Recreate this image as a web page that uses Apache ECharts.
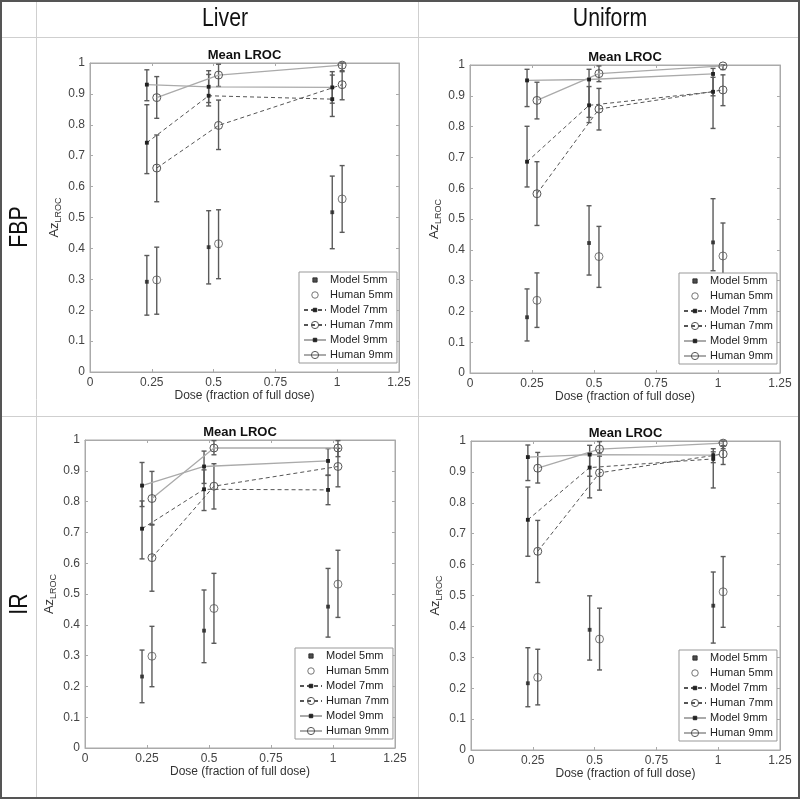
<!DOCTYPE html>
<html><head><meta charset="utf-8">
<script src="https://cdn.jsdelivr.net/npm/echarts@6/dist/echarts.min.js"></script>
<style>html,body{margin:0;padding:0;background:#fff}#c{width:800px;height:799px}</style>
</head><body><div id="c"></div>
<script>
// ---- data ----
const seriesNames = ['Model 5mm','Human 5mm','Model 7mm','Human 7mm','Model 9mm','Human 9mm'];
const doseModel = [0.23, 0.48, 0.98];
const doseHuman = [0.27, 0.52, 1.02];
const xTicks = ['0','0.25','0.5','0.75','1','1.25'];
const yTicks = ['0','0.1','0.2','0.3','0.4','0.5','0.6','0.7','0.8','0.9','1'];
const panelTitles = ['Liver','Uniform'];
const rowTitles = ['FBP','IR'];

// order: M5, H5, M7, H7, M9, H9
const liverFBPMean = [[0.292,0.404,0.517],[0.298,0.415,0.560],[0.742,0.894,0.883],[0.660,0.798,0.930],[0.930,0.923,0.921],[0.888,0.961,0.993]];
const liverFBPLo   = [[0.184,0.285,0.399],[0.187,0.302,0.452],[0.642,0.861,0.827],[0.551,0.720,0.881],[0.878,0.872,0.870],[0.821,0.924,0.972]];
const liverFBPHi   = [[0.377,0.522,0.634],[0.404,0.525,0.668],[0.865,0.963,0.961],[0.767,0.880,0.975],[0.978,0.975,0.972],[0.956,0.996,1.000]];

const uniformFBPMean = [[0.181,0.422,0.424],[0.236,0.378,0.380],[0.686,0.869,0.913],[0.582,0.857,0.919],[0.950,0.953,0.971],[0.885,0.972,0.997]];
const uniformFBPLo   = [[0.104,0.318,0.332],[0.148,0.278,0.275],[0.604,0.813,0.794],[0.479,0.789,0.868],[0.865,0.830,0.900],[0.825,0.946,0.985]];
const uniformFBPHi   = [[0.273,0.543,0.566],[0.325,0.476,0.487],[0.801,0.930,0.960],[0.686,0.924,0.968],[0.986,0.986,0.989],[0.944,0.997,1.000]];

const liverIRMean = [[0.232,0.381,0.459],[0.298,0.453,0.532],[0.712,0.840,0.838],[0.618,0.850,0.914],[0.852,0.914,0.932],[0.810,0.974,0.974]];
const liverIRLo   = [[0.147,0.277,0.360],[0.199,0.340,0.424],[0.614,0.771,0.790],[0.509,0.776,0.848],[0.784,0.859,0.885],[0.726,0.952,0.946]];
const liverIRHi   = [[0.318,0.513,0.583],[0.395,0.567,0.642],[0.802,0.903,0.886],[0.724,0.923,0.973],[0.927,0.964,0.972],[0.898,0.998,0.998]];

const uniformIRMean = [[0.216,0.389,0.467],[0.235,0.359,0.512],[0.745,0.914,0.942],[0.643,0.897,0.958],[0.948,0.956,0.954],[0.912,0.974,0.993]];
const uniformIRLo   = [[0.140,0.291,0.346],[0.146,0.259,0.397],[0.627,0.816,0.848],[0.542,0.841,0.924],[0.872,0.886,0.930],[0.864,0.951,0.975]];
const uniformIRHi   = [[0.331,0.499,0.576],[0.326,0.459,0.626],[0.851,0.960,0.965],[0.743,0.958,0.985],[0.987,0.986,0.975],[0.963,0.998,1.000]];

// ---- layout ----
const FONT = '"Liberation Sans", Arial, sans-serif';
const grids = [
  {left:90, top:63, width:309, height:309},
  {left:470, top:65, width:310, height:308},
  {left:85, top:440, width:310, height:308},
  {left:471, top:441, width:309, height:309}
];
const panels = [
  [liverFBPMean, liverFBPLo, liverFBPHi],
  [uniformFBPMean, uniformFBPLo, uniformFBPHi],
  [liverIRMean, liverIRLo, liverIRHi],
  [uniformIRMean, uniformIRLo, uniformIRHi]
];
const legendPos = [[299,272],[679,273],[295,648],[679,650]];

// small filled square inside a larger (invisible) box, so that it stays small in the legend
const SMALL_SQ = 'path://M0,0M10,10M2.6,2.6L7.4,2.6L7.4,7.4L2.6,7.4Z';
const SMALL_CIRC = 'path://M0,0M10,10M8.6,5A3.6,3.6,0,1,1,8.6,4.99Z';
const styles = [
  {type:'scatter', symbol:SMALL_SQ, size:8, color:'#222', border:'#222', line:null},
  {type:'scatter', symbol:'circle', size:8, color:'rgba(0,0,0,0)', border:'#555', line:null},
  {type:'line', symbol:SMALL_SQ, size:8, color:'#222', border:'#222', line:{color:'#555', width:1, type:[4,3]}},
  {type:'line', symbol:'circle', size:8, color:'rgba(0,0,0,0)', border:'#555', line:{color:'#555', width:1, type:[4,3]}},
  {type:'line', symbol:SMALL_SQ, size:8, color:'#222', border:'#222', line:{color:'#aaa', width:1.3, type:'solid'}},
  {type:'line', symbol:'circle', size:8, color:'rgba(0,0,0,0)', border:'#555', line:{color:'#aaa', width:1.3, type:'solid'}}
];

const xAxis = [], yAxis = [], series = [], legend = [], graphic = [];
grids.forEach((g, gi) => {
  xAxis.push({
    gridIndex: gi, type:'value', min:0, max:1.25, interval:0.25,
    name:'Dose (fraction of full dose)', nameLocation:'middle', nameGap:16,
    nameTextStyle:{fontSize:12, color:'#333', fontFamily:FONT},
    axisLine:{show:true, onZero:false, lineStyle:{color:'#aaa'}},
    axisTick:{show:true, inside:true, length:3, lineStyle:{color:'#aaa'}},
    axisLabel:{fontSize:12, color:'#444', fontFamily:FONT, margin:5, formatter:(v)=>xTicks[Math.round(v/0.25)]},
    splitLine:{show:false}
  });
  xAxis.push({
    gridIndex: gi, type:'value', min:0, max:1.25, interval:0.25, position:'top',
    axisLine:{show:true, onZero:false, lineStyle:{color:'#aaa'}},
    axisTick:{show:true, inside:true, length:3, lineStyle:{color:'#aaa'}},
    axisLabel:{show:false}, splitLine:{show:false}
  });
  yAxis.push({
    gridIndex: gi, type:'value', min:0, max:1, interval:0.1,
    name:'{a|Az}{b|LROC}', nameLocation:'middle', nameGap:26,
    nameTextStyle:{color:'#333', fontFamily:FONT, rich:{a:{fontSize:13, color:'#333', fontFamily:FONT, lineHeight:20, verticalAlign:'middle'}, b:{fontSize:9, color:'#333', fontFamily:FONT, lineHeight:20, padding:[9,0,0,0]}}},
    axisLine:{show:true, onZero:false, lineStyle:{color:'#aaa'}},
    axisTick:{show:true, inside:true, length:3, lineStyle:{color:'#aaa'}},
    axisLabel:{fontSize:12, color:'#444', fontFamily:FONT, margin:5, formatter:(v)=>yTicks[Math.round(v*10)]},
    splitLine:{show:false}
  });
  yAxis.push({
    gridIndex: gi, type:'value', min:0, max:1, interval:0.1, position:'right',
    axisLine:{show:true, onZero:false, lineStyle:{color:'#aaa'}},
    axisTick:{show:true, inside:true, length:3, lineStyle:{color:'#aaa'}},
    axisLabel:{show:false}, splitLine:{show:false}
  });
  const [mean, lo, hi] = panels[gi];
  // error bars
  seriesNames.forEach((nm, si) => {
    const xs = (si % 2 === 0) ? doseModel : doseHuman;
    series.push({
      type:'custom', xAxisIndex: gi*2, yAxisIndex: gi*2, z:1,
      data: xs.map((x, k) => [x, lo[si][k], hi[si][k]]),
      encode:{x:0, y:[1,2]},
      renderItem:(params, api) => {
        const x = api.value(0), l = api.value(1), h = api.value(2);
        const p1 = api.coord([x, l]), p2 = api.coord([x, h]);
        const w = 2.5, st = {stroke:'#5a5a5a', lineWidth:1.4};
        return {type:'group', children:[
          {type:'line', shape:{x1:p1[0], y1:p1[1], x2:p2[0], y2:p2[1]}, style:st},
          {type:'line', shape:{x1:p1[0]-w, y1:p1[1], x2:p1[0]+w, y2:p1[1]}, style:st},
          {type:'line', shape:{x1:p2[0]-w, y1:p2[1], x2:p2[0]+w, y2:p2[1]}, style:st}
        ]};
      },
      silent:true
    });
  });
  seriesNames.forEach((nm, si) => {
    const s = styles[si];
    const xs = (si % 2 === 0) ? doseModel : doseHuman;
    const o = {
      name: nm, type: s.type, xAxisIndex: gi*2, yAxisIndex: gi*2, z:3,
      data: xs.map((x, k) => [x, mean[si][k]]),
      symbol: s.symbol, symbolSize: s.size, symbolKeepAspect:true,
      itemStyle:{color:s.color, borderColor:s.border, borderWidth: s.symbol==='circle'?1:0},
      emphasis:{disabled:true}
    };
    if (s.type === 'line') {
      o.showSymbol = true; o.showAllSymbol = true;
      o.lineStyle = {color:s.line.color, width:s.line.width, type:s.line.type};
    }
    series.push(o);
  });
  legend.push({
    data: seriesNames.map(n => n === 'Human 5mm' ? {name:n, icon:SMALL_CIRC} : n),
    orient:'vertical', left: legendPos[gi][0], top: legendPos[gi][1],
    itemWidth:22, itemHeight:9, itemGap:3, padding:[2,4,2,4], symbolKeepAspect:true,
    itemStyle:{borderWidth:1},
    backgroundColor:'#fff', borderColor:'#999', borderWidth:1, borderRadius:0,
    textStyle:{fontSize:11, color:'#222', fontFamily:FONT, lineHeight:12, padding:[0,0,0,-1]},
    selectedMode:false
  });
  graphic.push({type:'text', x: g.left + g.width/2, y: g.top - 8, silent:true,
    style:{text:'Mean LROC', font:'bold 13px ' + FONT, fill:'#111', align:'center', verticalAlign:'middle'}});
});

// table frame
const lineC = '#cfcfcf';
const HFONT = '25px ' + FONT;
graphic.push(
  {type:'line', shape:{x1:36.5, y1:0, x2:36.5, y2:799}, style:{stroke:lineC, lineWidth:1}, silent:true},
  {type:'line', shape:{x1:418.5, y1:0, x2:418.5, y2:799}, style:{stroke:lineC, lineWidth:1}, silent:true},
  {type:'line', shape:{x1:0, y1:37.5, x2:800, y2:37.5}, style:{stroke:lineC, lineWidth:1}, silent:true},
  {type:'line', shape:{x1:0, y1:416.5, x2:800, y2:416.5}, style:{stroke:lineC, lineWidth:1}, silent:true},
  {type:'rect', shape:{x:1, y:1, width:798, height:797}, style:{fill:'none', stroke:'#555', lineWidth:2}, silent:true},
  {type:'text', x:225, y:19, scaleX:0.85, silent:true, style:{text:panelTitles[0], font:HFONT, fill:'#111', align:'center', verticalAlign:'middle'}},
  {type:'text', x:610, y:19, scaleX:0.85, silent:true, style:{text:panelTitles[1], font:HFONT, fill:'#111', align:'center', verticalAlign:'middle'}},
  {type:'text', x:20, y:227, scaleX:0.85, rotation:Math.PI/2, silent:true, style:{text:rowTitles[0], font:HFONT, fill:'#111', align:'center', verticalAlign:'middle'}},
  {type:'text', x:20, y:604, scaleX:0.85, rotation:Math.PI/2, silent:true, style:{text:rowTitles[1], font:HFONT, fill:'#111', align:'center', verticalAlign:'middle'}}
);

const chart = echarts.init(document.getElementById('c'), null, {renderer:'canvas'});
chart.setOption({
  animation:false,
  backgroundColor:'#fff',
  grid: grids.map(g => Object.assign({show:true, borderColor:'#aaa', borderWidth:1, backgroundColor:'transparent'}, g)),
  xAxis, yAxis, series, legend, graphic
});
</script></body></html>
